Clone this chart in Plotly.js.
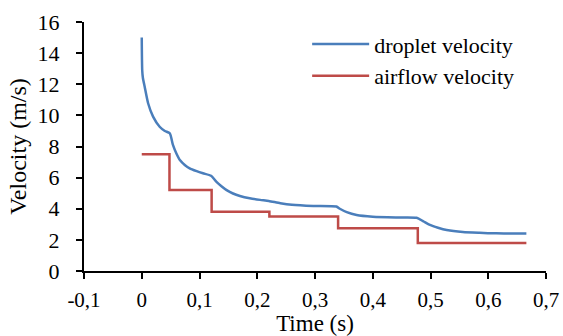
<!DOCTYPE html>
<html>
<head>
<meta charset="utf-8">
<script src="https://cdn.plot.ly/plotly-3.0.1.min.js"></script>
<style>html,body{margin:0;padding:0;background:#fff;}#chart{width:563px;height:336px;}</style>
</head>
<body>
<div id="chart"></div>
<script>
// Droplet velocity (blue curve)
var dropletTime = [0, 0.0008, 0.002, 0.005, 0.011, 0.0196, 0.031, 0.040, 0.0485, 0.054, 0.060, 0.066, 0.075, 0.083, 0.095, 0.106, 0.120, 0.129, 0.138, 0.147, 0.158, 0.170, 0.187, 0.205, 0.220, 0.240, 0.260, 0.297, 0.337, 0.343, 0.355, 0.372, 0.400, 0.440, 0.476, 0.488, 0.499, 0.513, 0.528, 0.556, 0.585, 0.614, 0.640, 0.666];
var dropletVel  = [15.0, 12.9, 12.4, 11.85, 10.78, 9.92, 9.27, 9.0, 8.85, 8.1, 7.55, 7.13, 6.8, 6.6, 6.42, 6.28, 6.12, 5.74, 5.45, 5.2, 4.98, 4.82, 4.67, 4.57, 4.5, 4.36, 4.26, 4.18, 4.14, 4.0, 3.78, 3.6, 3.49, 3.44, 3.42, 3.18, 2.96, 2.78, 2.63, 2.5, 2.45, 2.42, 2.41, 2.41];

// Airflow velocity (red step line)
var airTime = [0, 0.048, 0.121, 0.221, 0.340, 0.478, 0.666];
var airVel  = [7.5, 5.2, 3.8, 3.5, 2.75, 1.8, 1.8];

var seriesNames = ['droplet velocity', 'airflow velocity'];
var xTickVals = [-0.1, 0, 0.1, 0.2, 0.3, 0.4, 0.5, 0.6, 0.7];
var xTickText = ['-0,1', '0', '0,1', '0,2', '0,3', '0,4', '0,5', '0,6', '0,7'];
var yTickVals = [0, 2, 4, 6, 8, 10, 12, 14, 16];

var font = 'Liberation Serif';

var traces = [
  {x: dropletTime, y: dropletVel, name: seriesNames[0], mode: 'lines', line: {color: '#4a7ebb', width: 2.5, shape: 'spline', smoothing: 0.6}},
  {x: airTime, y: airVel, name: seriesNames[1], mode: 'lines', line: {color: '#be4b48', width: 2.5, shape: 'hv'}}
];

var layout = {
  width: 563, height: 336,
  margin: {l: 84, r: 17, t: 22, b: 65},
  paper_bgcolor: '#fff', plot_bgcolor: '#fff',
  font: {family: font, size: 21, color: '#000'},
  showlegend: true,
  legend: {x: 0.483, y: 0.995, xanchor: 'left', yanchor: 'top', bgcolor: 'rgba(0,0,0,0)', font: {family: font, size: 22, color: '#000'}, itemwidth: 57},
  xaxis: {
    range: [-0.1, 0.7], tickvals: xTickVals, ticktext: xTickText,
    showline: true, linecolor: '#000', linewidth: 2, showgrid: false, zeroline: false,
    ticks: 'outside', ticklen: 6, tickwidth: 2, tickcolor: '#000',
    tickfont: {family: font, size: 21, color: '#000'}, ticklabelstandoff: 3,
    title: {text: 'Time (s)', font: {family: font, size: 23, color: '#000'}, standoff: 2}
  },
  yaxis: {
    range: [0, 16], tickvals: yTickVals,
    showline: true, linecolor: '#000', linewidth: 2, showgrid: false, zeroline: false,
    ticks: 'outside', ticklen: 6, tickwidth: 2, tickcolor: '#000',
    tickfont: {family: font, size: 22, color: '#000'}, ticklabelstandoff: 12,
    title: {text: 'Velocity (m/s)', font: {family: font, size: 24, color: '#000'}, standoff: 4}
  }
};

Plotly.newPlot('chart', traces, layout, {displayModeBar: false, staticPlot: true});
</script>
</body>
</html>
